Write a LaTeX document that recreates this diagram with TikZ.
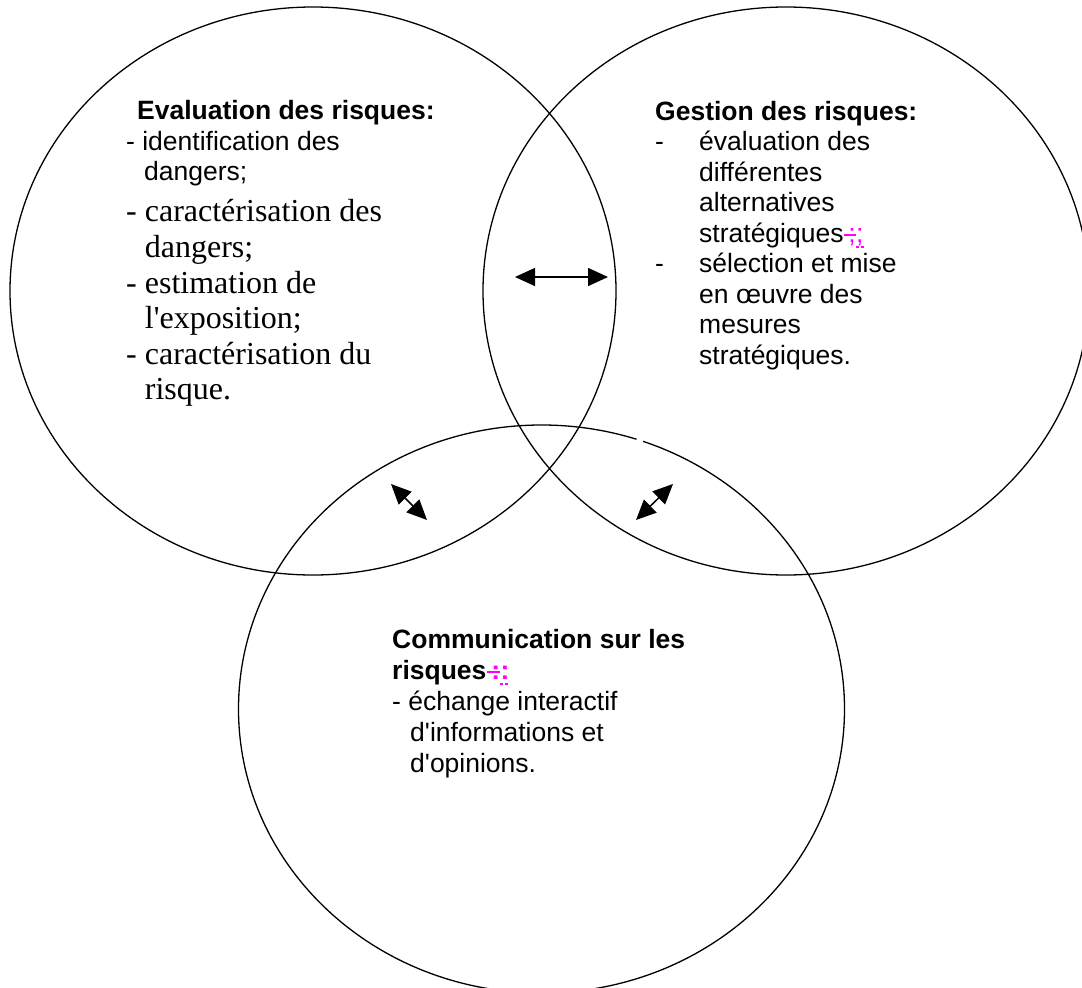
\documentclass[tikz,border=0pt]{standalone}
\usepackage{fontspec}
\setmainfont{Liberation Serif}
\newfontfamily\arialf{Liberation Sans}
\usetikzlibrary{arrows.meta,shapes.geometric}
\definecolor{trackmag}{RGB}{255,0,255}
\begin{document}
\begin{tikzpicture}[x=1pt,y=-1pt,
  ring/.style={draw=black, line width=1.3pt, ellipse, minimum width=606pt, minimum height=568pt, inner sep=0pt},
  sans/.style={anchor=base west, inner sep=0pt, font=\arialf\fontsize{26.5}{30.5}\selectfont},
  sansb/.style={anchor=base west, inner sep=0pt, font=\arialf\bfseries\fontsize{26.5}{30.5}\selectfont},
  serif/.style={anchor=base west, inner sep=0pt, font=\fontsize{32}{36.8}\selectfont},
  dbl/.style={line width=1.5pt, {Triangle[length=20pt,width=18pt]}-{Triangle[length=20pt,width=18pt]}},
  strike/.style={draw=trackmag, line width=1.6pt},
  insline/.style={draw=trackmag, line width=1.8pt, dash pattern=on 3pt off 2pt}
]
\useasboundingbox (0,0) rectangle (1082,988);
\fill[white] (0,0) rectangle (1082,988);
\clip (0,0) rectangle (1082,988);

% circles
\node[ring] (eval) at (313,291) {};
\node[ring] (gest) at (786,291) {};
\node[ring] (comm) at (541.5,709) {};
% small break in the lower circle's outline
\draw[white, line width=3pt] (636.5,439.3) -- (643,441.4);

% left block
\node[sansb] (e0) at (137,119.5) {Evaluation des risques:};
\node[sans]  (e1) at (126,150) {- identification des};
\node[sans]  (e2) at (144,180.5) {dangers;};
\node[serif] (e3) at (126,221) {- caractérisation des};
\node[serif] (e4) at (144.7,257) {dangers;};
\node[serif] (e5) at (126,293) {- estimation de};
\node[serif] (e6) at (144.7,328.5) {l\textquotesingle exposition;};
\node[serif] (e7) at (126,364) {- caractérisation du};
\node[serif] (e8) at (144.7,399.5) {risque.};

% right block
\node[sansb] (g0) at (655,120) {Gestion des risques:};
\node[sans] (gd1) at (655,150.5) {-};
\node[sans] (g1) at (699,150.5) {évaluation des};
\node[sans] (g2) at (699,181) {différentes};
\node[sans] (g3) at (699,211.5) {alternatives};
\node[sans] (g4) at (699,242) {stratégiques};
\node[sans, text=trackmag] (g4x) at (g4.base east) {\,;};
\node[sans, text=trackmag] (g4y) at (g4x.base east) {;};
\draw[strike] ([yshift=7pt]g4x.base west) -- ([yshift=7pt]g4x.base east);
\draw[insline] ([yshift=-5pt]g4y.base west) -- ([yshift=-5pt]g4y.base east);
\node[sans] (gd2) at (655,272.5) {-};
\node[sans] (g5) at (699,272.5) {sélection et mise};
\node[sans] (g6) at (699,303) {en œuvre des};
\node[sans] (g7) at (699,333.5) {mesures};
\node[sans] (g8) at (699,364) {stratégiques.};

% bottom block
\node[sansb] (c0) at (392,648) {Communication sur les};
\node[sansb] (c1) at (392,679) {risques};
\node[sansb, text=trackmag] (c1x) at (c1.base east) {\,:};
\node[sansb, text=trackmag] (c1y) at (c1x.base east) {:};
\draw[strike] ([yshift=7pt]c1x.base west) -- ([yshift=7pt]c1x.base east);
\draw[insline] ([yshift=-5pt]c1y.base west) -- ([yshift=-5pt]c1y.base east);
\node[sans]  (c2) at (392,710) {- échange interactif};
\node[sans]  (c3) at (410,741) {d\textquotesingle informations et};
\node[sans]  (c4) at (410,772) {d\textquotesingle opinions.};

% arrows
\coordinate (hl) at (515,277);
\coordinate (hr) at (608,277);
\coordinate (l1) at (391,484);
\coordinate (l2) at (427,520);
\coordinate (r1) at (673,484);
\coordinate (r2) at (636,520);
\draw[dbl] (hl) -- (hr);
\draw[dbl] (l1) -- (l2);
\draw[dbl] (r1) -- (r2);
\end{tikzpicture}
\end{document}
